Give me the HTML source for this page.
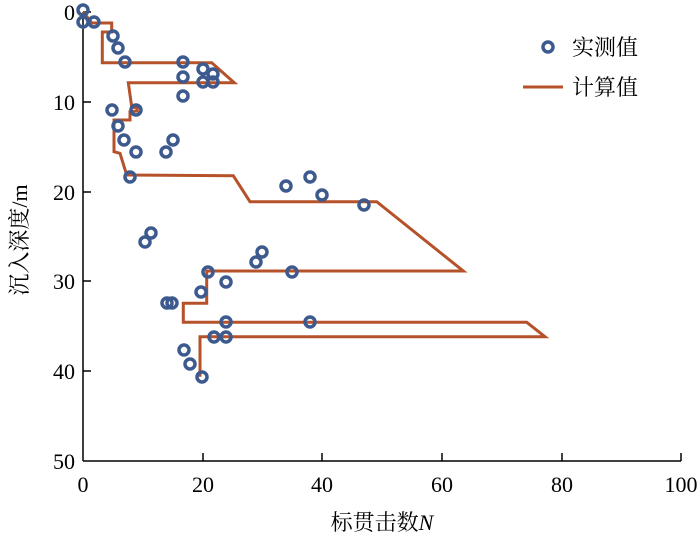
<!DOCTYPE html>
<html><head><meta charset="utf-8"><style>body{margin:0;background:#fff}svg{display:block}</style></head><body>
<svg width="700" height="543" viewBox="0 0 700 543" font-family="'Liberation Serif','Noto Serif CJK SC',serif" font-size="22">
<g stroke="#000" stroke-width="1.5" fill="none">
<line x1="83" y1="12" x2="83" y2="461"/>
<line x1="83" y1="461" x2="681" y2="461"/>
<line x1="83" y1="12" x2="91" y2="12"/><line x1="83" y1="102" x2="91" y2="102"/><line x1="83" y1="192" x2="91" y2="192"/><line x1="83" y1="281" x2="91" y2="281"/><line x1="83" y1="371" x2="91" y2="371"/>
<line x1="203" y1="461" x2="203" y2="453"/><line x1="322" y1="461" x2="322" y2="453"/><line x1="442" y1="461" x2="442" y2="453"/><line x1="562" y1="461" x2="562" y2="453"/><line x1="681" y1="461" x2="681" y2="453"/>
</g>
<g text-anchor="end" fill="#000">
<text x="75" y="20">0</text><text x="75" y="110">10</text><text x="75" y="200">20</text><text x="75" y="289">30</text><text x="75" y="379">40</text><text x="75" y="469">50</text>
</g>
<g text-anchor="middle" fill="#000">
<text x="83" y="492">0</text><text x="203" y="492">20</text><text x="322" y="492">40</text><text x="442" y="492">60</text><text x="562" y="492">80</text><text x="681" y="492">100</text>
<text x="382" y="530">标贯击数<tspan font-style="italic">N</tspan></text>
<text transform="translate(27,240) rotate(-90)">沉入深度/m</text>
</g>
<polyline fill="none" stroke="#b5522a" stroke-width="3" points="83,12 92,23 111.7,23 111.7,32 102.3,32 102.3,62.7 211.7,62.7 234.3,82.7 128.3,82.7 131.7,106.7 137.3,108.3 137.3,111 130,111.7 130,120 114,120 114,151.7 120,153.3 126.7,175 233.3,175.7 250,201.7 376.7,201.7 463.3,271 206.7,271 206.7,303.3 183.3,303.3 183.3,322.3 526.7,322.3 545,336.7 200,336.7 200,376.7"/>
<g fill="none" stroke="#3d5a8e" stroke-width="3.5">
<circle cx="83" cy="10" r="5"/><circle cx="83" cy="22" r="5"/><circle cx="94" cy="22" r="5"/><circle cx="113" cy="36" r="5"/><circle cx="118" cy="48" r="5"/><circle cx="125" cy="62" r="5"/><circle cx="183" cy="62" r="5"/><circle cx="183" cy="77" r="5"/><circle cx="183" cy="96" r="5"/><circle cx="203" cy="69" r="5"/><circle cx="213" cy="74" r="5"/><circle cx="203" cy="82" r="5"/><circle cx="213" cy="82" r="5"/><circle cx="112" cy="110" r="5"/><circle cx="136" cy="110" r="5"/><circle cx="118" cy="126" r="5"/><circle cx="124" cy="140" r="5"/><circle cx="136" cy="152" r="5"/><circle cx="166" cy="152" r="5"/><circle cx="173" cy="140" r="5"/><circle cx="130" cy="177" r="5"/><circle cx="310" cy="177" r="5"/><circle cx="286" cy="186" r="5"/><circle cx="322" cy="195" r="5"/><circle cx="364" cy="205" r="5"/><circle cx="151" cy="233" r="5"/><circle cx="145" cy="242" r="5"/><circle cx="262" cy="252" r="5"/><circle cx="256" cy="262" r="5"/><circle cx="208" cy="272" r="5"/><circle cx="292" cy="272" r="5"/><circle cx="226" cy="282" r="5"/><circle cx="201" cy="292" r="5"/><circle cx="167" cy="303" r="5"/><circle cx="172" cy="303" r="5"/><circle cx="226" cy="322" r="5"/><circle cx="310" cy="322" r="5"/><circle cx="214" cy="337" r="5"/><circle cx="226" cy="337" r="5"/><circle cx="184" cy="350" r="5"/><circle cx="190" cy="364" r="5"/><circle cx="202" cy="377" r="5"/>
<circle cx="548" cy="47" r="5"/>
</g>
<line x1="523" y1="87" x2="563" y2="87" stroke="#b5522a" stroke-width="3"/>
<text x="572" y="55" fill="#000">实测值</text>
<text x="572" y="95" fill="#000">计算值</text>
</svg>
</body></html>
